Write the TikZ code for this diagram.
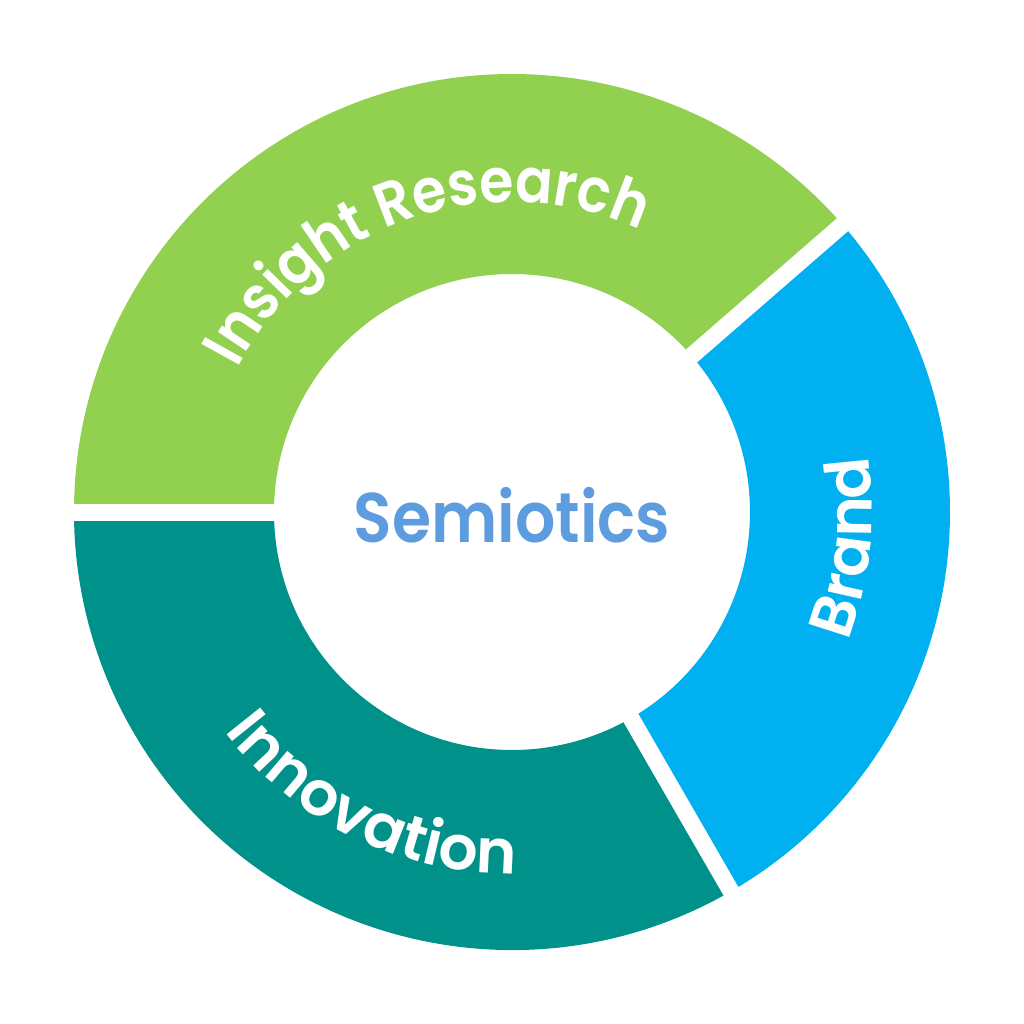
\documentclass[tikz,border=0pt]{standalone}
\usepackage{fontspec}
\setsansfont{Poppins}[BoldFont=*-SemiBold, FakeStretch=0.9]
\newfontfamily\ringfam{Poppins}[BoldFont=*-SemiBold]
\usetikzlibrary{decorations.text}
\definecolor{insight}{HTML}{92D050}
\definecolor{brand}{HTML}{00B0F0}
\definecolor{innov}{HTML}{00918B}
\definecolor{semio}{HTML}{5E9CE0}
\newcommand{\corefont}{\sffamily\bfseries\fontsize{20}{24}\selectfont}
\newcommand{\ringfont}{\ringfam\bfseries\fontsize{17.5}{21}\selectfont}
\newcommand{\arcfont}{\sffamily\bfseries\fontsize{17.5}{21}\selectfont}

\begin{document}
\begin{tikzpicture}[
      gap/.style={white, line width=1.7mm},
      ringtext/.style 2 args={decorate, decoration={text along path, text align=center,
                       text color=white, text={|#1|#2}}}
    ]
    \useasboundingbox (-5.12,-5.12) rectangle (5.12,5.12);

    % the three ring sectors
    \fill[insight] (180:4.38) arc[start angle=180, end angle=41, radius=4.38]
      -- (41:2.38) arc[start angle=41, end angle=180, radius=2.38] -- cycle;
    \fill[brand] (41:4.38) arc[start angle=41, end angle=-60, radius=4.38]
      -- (-60:2.38) arc[start angle=-60, end angle=41, radius=2.38] -- cycle;
    \fill[innov] (-60:4.38) arc[start angle=-60, end angle=-180, radius=4.38]
      -- (180:2.38) arc[start angle=-180, end angle=-60, radius=2.38] -- cycle;

    \foreach \a in {180,41,-60}
      \draw[gap] (\a:2.2) -- (\a:4.55);

    % labels along the ring
    \path[ringtext={\arcfont}{Insight Research}] (180:3.10) arc[start angle=180, end angle=38, radius=3.10];
    \path[ringtext={\ringfont}{Brand}] (-38:3.60) arc[start angle=-38, end angle=26, radius=3.60];
    \path[ringtext={\ringfont}{Innovation}] (190:3.62) arc[start angle=190, end angle=298, radius=3.62];

    \node[text=semio, font=\corefont] (core) at (0,-0.03) {Semiotics};

  \end{tikzpicture}
\end{document}
